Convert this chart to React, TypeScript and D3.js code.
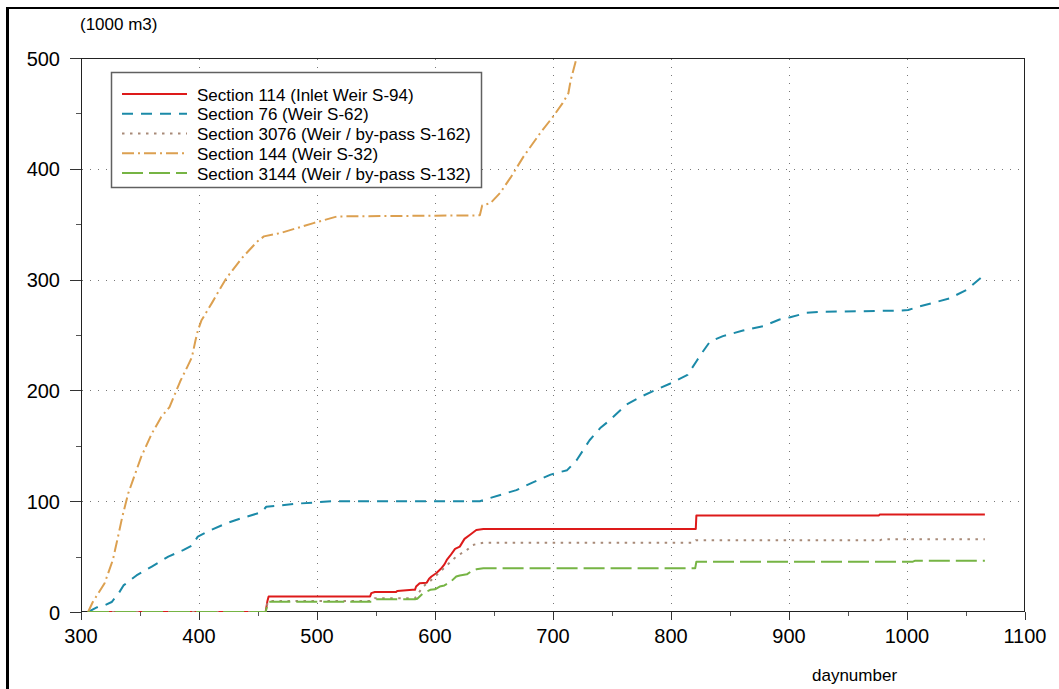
import React from "react";
import * as d3 from "d3";

const xTicks = [300, 400, 500, 600, 700, 800, 900, 1000, 1100];
const yTicks = [0, 100, 200, 300, 400, 500];
const xMinor = [350, 450, 550, 650, 750, 850, 950, 1050];
const yMinor = [50, 150, 250, 350, 450];
const xGrid = [400, 500, 600, 700, 800, 900, 1000];
const yGrid = [100, 200, 300, 400];

const seriesNames = [
  "Section 114 (Inlet Weir S-94)",
  "Section 76 (Weir S-62)",
  "Section 3076 (Weir / by-pass S-162)",
  "Section 144 (Weir S-32)",
  "Section 3144 (Weir / by-pass S-132)",
];

const section114: [number, number][] = [
  [306, 0], [456.5, 0], [458, 10], [459, 14], [545, 14], [546, 17], [549, 18], [567, 18], [568, 19],
  [581, 20], [583, 20], [584, 23], [587, 26], [593, 26.5], [595, 30], [597, 32], [601, 35], [605, 39],
  [608, 43], [610, 47], [613, 51], [617, 57], [621, 59], [625, 66], [630, 70], [635, 74], [641, 75],
  [821, 75], [821.5, 87], [976, 87], [977, 88], [1066, 88],
];

const section76: [number, number][] = [
  [306, 0], [313, 4], [320, 6], [326, 9], [332, 17], [336, 24], [347, 33], [360, 41], [374, 50],
  [387, 56], [394, 60], [399, 68], [406, 72], [423, 80], [437, 85], [453, 90], [457, 95], [466, 96],
  [486, 98], [514, 100], [638, 100], [647, 103], [669, 110], [683, 117], [698, 124], [712, 128],
  [720, 137], [731, 155], [740, 166], [748, 173], [762, 187], [774, 194], [786, 200], [799, 206],
  [814, 214], [822, 227], [825, 232], [833, 244], [844, 249], [861, 254], [878, 258], [892, 264],
  [901, 266], [915, 270], [929, 271], [994, 272], [1001, 272.5], [1011, 276], [1022, 279],
  [1036, 283], [1051, 291], [1064, 303],
];

const section3076: [number, number][] = [
  [306, 0], [456.5, 0], [458, 8], [459, 10], [547, 10], [549, 12.5], [583, 12.5], [586, 17],
  [590, 23], [597, 29], [604, 36], [610, 42], [618, 50], [627, 56], [632, 60.5], [638, 62],
  [641, 62.5], [819, 62.5], [821, 64.7], [977, 64.7], [979, 65.6], [1066, 65.6],
];

const section144: [number, number][] = [
  [306, 0], [310, 9], [320, 26], [327, 47], [332, 71], [335, 86], [340, 107], [344, 119], [351, 140],
  [360, 161], [368, 176], [375, 185], [384, 208], [390, 221], [394, 230], [397, 245], [399, 254],
  [402, 263], [411, 279], [418, 292], [423, 301], [436, 319], [449, 334], [455, 339], [469, 342],
  [497, 351], [517, 357], [638, 358], [640, 367], [647, 369], [655, 378], [664, 392], [675, 411],
  [689, 432], [700, 447], [708, 459], [713, 468], [715, 480], [720, 500], [725, 525],
];

const section3144: [number, number][] = [
  [306, 0], [456.5, 0], [458, 7], [459, 9.3], [547, 9.3], [549, 11.5], [583, 11.5], [585, 12],
  [590, 17], [596, 20], [600, 20.5], [604, 23], [608, 24], [613, 27], [618, 32], [621, 33],
  [627, 34], [631, 37], [635, 38.5], [641, 39.4], [820.5, 39.4], [821.5, 45.4], [1005, 45.4],
  [1007, 46.3], [1066, 46.3],
];

const seriesData = [section114, section76, section3076, section144, section3144];
const colors = ["#dd1a1a", "#1b8aa8", "#a88a78", "#dca050", "#76b444"];
const dashes = ["none", "11,8", "2.5,5.5", "12,4,2,4", "21,6"];

const FONT = "'Liberation Sans', Arial, sans-serif";

export default function App() {
  const x = d3.scaleLinear().domain([300, 1100]).range([81, 1025]);
  const y = d3.scaleLinear().domain([0, 500]).range([612, 58]);
  const line = d3
    .line<[number, number]>()
    .x((d) => x(d[0]))
    .y((d) => y(d[1]));

  const px = (v: number) => Math.round(v) + 0.5;

  return (
    <svg
      width={1059}
      height={689}
      style={{ position: "absolute", left: 0, top: 0, background: "#fff" }}
      fontFamily={FONT}
    >
      <rect x={0} y={0} width={1059} height={689} fill="#fff" />
      {/* outer frame */}
      <line x1={7.5} y1={7} x2={7.5} y2={689} stroke="#000" strokeWidth={3} />
      <line x1={6} y1={8} x2={1059} y2={8} stroke="#000" strokeWidth={2} />

      <defs>
        <clipPath id="plotClip">
          <rect x={81} y={58} width={944} height={554} />
        </clipPath>
      </defs>

      {/* grid */}
      {xGrid.map((g) => (
        <line
          key={"gx" + g}
          x1={px(x(g))}
          x2={px(x(g))}
          y1={59}
          y2={612}
          stroke="#777"
          strokeWidth={1}
          strokeDasharray="1,7"
        />
      ))}
      {yGrid.map((g) => (
        <line
          key={"gy" + g}
          x1={82}
          x2={1025}
          y1={px(y(g))}
          y2={px(y(g))}
          stroke="#777"
          strokeWidth={1}
          strokeDasharray="1,7"
        />
      ))}

      {/* plot frame */}
      <rect x={81.5} y={58.5} width={943} height={553} fill="none" stroke="#222" strokeWidth={1} />

      {/* ticks */}
      {xTicks.map((t) => (
        <g key={"xt" + t}>
          <line x1={px(x(t))} x2={px(x(t))} y1={612} y2={620} stroke="#333" />
          <text x={x(t)} y={643} textAnchor="middle" fontSize={20} fill="#000">
            {t}
          </text>
        </g>
      ))}
      {xMinor.map((t) => (
        <line key={"xm" + t} x1={px(x(t))} x2={px(x(t))} y1={612} y2={616} stroke="#555" />
      ))}
      {yTicks.map((t) => (
        <g key={"yt" + t}>
          <line x1={70} x2={81} y1={px(y(t))} y2={px(y(t))} stroke="#333" />
          <text x={60} y={y(t) + 7.5} textAnchor="end" fontSize={20} fill="#000">
            {t}
          </text>
        </g>
      ))}
      {yMinor.map((t) => (
        <line key={"ym" + t} x1={76} x2={81} y1={px(y(t))} y2={px(y(t))} stroke="#555" />
      ))}

      <text x={80} y={30} fontSize={17} fill="#000">
        (1000 m3)
      </text>
      <text x={812} y={681} fontSize={17} fill="#000">
        daynumber
      </text>

      {/* series */}
      <g clipPath="url(#plotClip)">
        {seriesData.map((s, i) => (
          <path
            key={"s" + i}
            d={line(s) || ""}
            fill="none"
            stroke={colors[i]}
            strokeWidth={2}
            strokeDasharray={dashes[i]}
            strokeLinejoin="round"
          />
        ))}
      </g>

      {/* legend */}
      <rect x={111.5} y={72.5} width={370} height={115} fill="#fff" stroke="#606060" strokeWidth={1.5} />
      {seriesNames.map((n, i) => {
        const ly = 94 + i * 19.75;
        return (
          <g key={"l" + i}>
            <line
              x1={122}
              x2={187}
              y1={ly}
              y2={ly}
              stroke={colors[i]}
              strokeWidth={2}
              strokeDasharray={dashes[i]}
            />
            <text x={197} y={ly + 6.5} fontSize={17} fill="#000">
              {n}
            </text>
          </g>
        );
      })}
    </svg>
  );
}
